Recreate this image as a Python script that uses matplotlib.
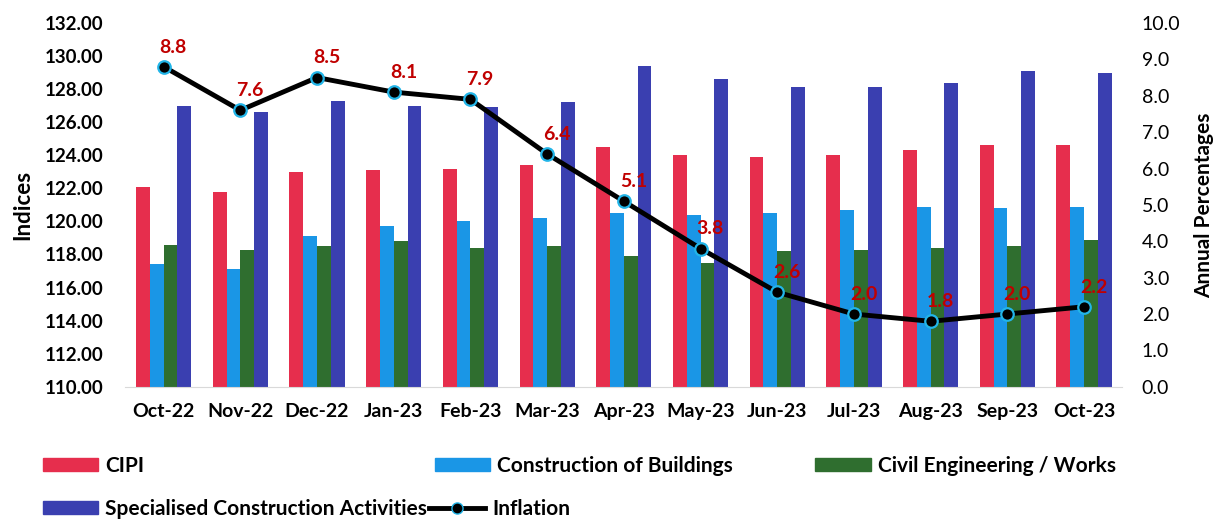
import matplotlib
matplotlib.use('Agg')
import matplotlib.pyplot as plt
import numpy as np
from matplotlib.patches import Patch
from matplotlib.lines import Line2D

months = ['Oct-22', 'Nov-22', 'Dec-22', 'Jan-23', 'Feb-23', 'Mar-23', 'Apr-23',
          'May-23', 'Jun-23', 'Jul-23', 'Aug-23', 'Sep-23', 'Oct-23']
cipi = [122.1, 121.8, 123.0, 123.1, 123.2, 123.4, 124.5, 124.0, 123.9, 124.0, 124.3, 124.6, 124.6]
buildings = [117.4, 117.1, 119.1, 119.7, 120.0, 120.2, 120.5, 120.4, 120.5, 120.7, 120.9, 120.8, 120.9]
civil = [118.6, 118.3, 118.5, 118.8, 118.4, 118.5, 117.9, 117.5, 118.2, 118.3, 118.4, 118.5, 118.9]
specialised = [127.0, 126.6, 127.3, 127.0, 126.9, 127.2, 129.4, 128.6, 128.1, 128.1, 128.4, 129.1, 129.0]
inflation = [8.8, 7.6, 8.5, 8.1, 7.9, 6.4, 5.1, 3.8, 2.6, 2.0, 1.8, 2.0, 2.2]

plt.rcParams['font.family'] = ['Lato', 'DejaVu Sans']

c_red = '#E62E4D'
c_lblue = '#1A96E6'
c_green = '#2F6E2F'
c_dblue = '#3A3FB0'
c_lab = '#C00000'

fig = plt.figure(figsize=(12.28, 5.22), dpi=100)
ax = fig.add_axes([0.102, 0.259, 0.812, 0.697])
ax2 = ax.twinx()

x = np.arange(len(months))
w = 0.18
series = [(cipi, c_red, 'CIPI'),
          (buildings, c_lblue, 'Construction of Buildings'),
          (civil, c_green, 'Civil Engineering / Works'),
          (specialised, c_dblue, 'Specialised Construction Activities')]
for i, (vals, col, name) in enumerate(series):
    ax.bar(x + (i - 1.5) * w, np.array(vals) - 110, bottom=110, width=w, color=col, zorder=2)

ax.set_ylim(110, 132)
ax.set_yticks(np.arange(110, 133, 2))
ax.set_yticklabels(['%.2f' % v for v in np.arange(110, 133, 2)], fontsize=13.5, fontweight='bold')
ax.set_xlim(-0.5, len(months) - 0.5)
ax.set_xticks(x)
ax.set_xticklabels(months, fontsize=14, fontweight='bold')
ax.tick_params(axis='y', length=0, pad=16)
ax.tick_params(axis='x', length=0, pad=12)
ax.set_ylabel('Indices', fontsize=16, fontweight='bold', labelpad=8)
for s in ['top', 'right', 'left']:
    ax.spines[s].set_visible(False)
ax.spines['bottom'].set_color('#d9d9d9')

ax2.plot(x, inflation, color='black', lw=3.5, marker='o', markersize=9,
         markerfacecolor='black', markeredgecolor='#22B5E8', markeredgewidth=1.6, zorder=5)
for xi, v in zip(x, inflation):
    ax2.annotate('%.1f' % v, (xi, v), xytext=(7, 8), textcoords='offset points',
                 ha='center', va='bottom', fontsize=14, fontweight='bold', color=c_lab)
ax2.set_ylim(0, 10)
ax2.set_yticks(np.arange(0, 10.1, 1))
ax2.set_yticklabels(['%.1f' % v for v in np.arange(0, 10.1, 1)], fontsize=14)
ax2.tick_params(length=0, pad=14)
ax2.set_ylabel('Annual Percentages', fontsize=15, fontweight='bold', labelpad=10)
for s in ['top', 'right', 'left', 'bottom']:
    ax2.spines[s].set_visible(False)

handles = [Patch(color=c_red, label='CIPI'),
           Patch(color=c_lblue, label='Construction of Buildings'),
           Patch(color=c_green, label='Civil Engineering / Works')]
spots = [0.035, 0.354, 0.664]
for h, xs in zip(handles, spots):
    fig.legend(handles=[h], loc='center left', bbox_to_anchor=(xs, 0.107), frameon=False,
               handlelength=2.65, handleheight=0.6, handletextpad=0.35,
               prop={'size': 15, 'weight': 'bold'}, borderaxespad=0, borderpad=0)

row2 = [Patch(color=c_dblue, label='Specialised Construction Activities'),
        Line2D([], [], color='black', lw=3.5, marker='o', markersize=8, markerfacecolor='black',
               markeredgecolor='#22B5E8', label='Inflation')]
fig.legend(handles=row2, loc='center left', bbox_to_anchor=(0.035, 0.025), frameon=False, ncol=2,
           handlelength=2.65, handleheight=0.6, handletextpad=0.35, columnspacing=0.1,
           prop={'size': 15, 'weight': 'bold'}, borderaxespad=0, borderpad=0)

fig.savefig('out.png', dpi=100)
